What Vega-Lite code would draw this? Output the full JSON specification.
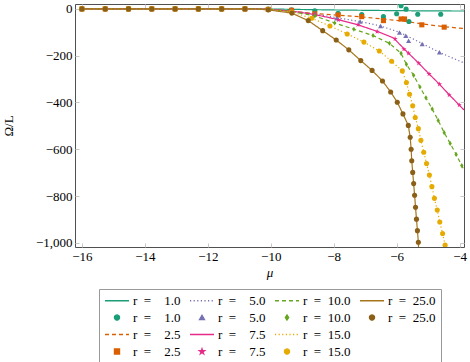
{
  "$schema": "https://vega.github.io/schema/vega-lite/v6.json",
  "width": 389,
  "height": 243,
  "autosize": "none",
  "padding": {"left": 75, "top": 4, "right": 6, "bottom": 115},
  "background": "white",
  "config": {
    "view": {"stroke": "#505050", "strokeWidth": 1},
    "axis": {
      "labelFont": "Liberation Serif", "titleFont": "Liberation Serif",
      "labelFontSize": 13, "titleFontSize": 13, "labelColor": "#000", "titleColor": "#000",
      "titleFontWeight": "normal", "domain": false, "grid": false,
      "tickColor": "#c8c8c8", "tickSize": -4, "labelPadding": 7, "labelFlush": false
    },
    "legend": {
      "orient": "none", "legendX": 24, "legendY": 285,
      "columns": 4, "direction": "horizontal",
      "strokeColor": "#999999", "padding": 5,
      "symbolStrokeWidth": 1.3, "clipHeight": 13,
      "labelFont": "Liberation Serif", "labelFontSize": 13, "labelColor": "#000", "labelOffset": 3,
      "columnPadding": 8, "rowPadding": 3
    }
  },
  "datasets": {
    "lines": [
      {"k":"L1.0","x":-16,"y":0},{"k":"L1.0","x":-10.5,"y":0},{"k":"L1.0","x":-10,"y":-0.5},{"k":"L1.0","x":-9.5,"y":-1.5},{"k":"L1.0","x":-9,"y":-2.5},{"k":"L1.0","x":-8,"y":-4.5},{"k":"L1.0","x":-7,"y":-6},{"k":"L1.0","x":-6,"y":-7.5},{"k":"L1.0","x":-5,"y":-8.5},{"k":"L1.0","x":-3.86,"y":-9},
      {"k":"L2.5","x":-16,"y":0},{"k":"L2.5","x":-10.5,"y":0},{"k":"L2.5","x":-10,"y":-2},{"k":"L2.5","x":-9.3,"y":-10},{"k":"L2.5","x":-8.6,"y":-20},{"k":"L2.5","x":-7.86,"y":-27},{"k":"L2.5","x":-7.1,"y":-34},{"k":"L2.5","x":-6.4,"y":-44},{"k":"L2.5","x":-5.8,"y":-52},{"k":"L2.5","x":-5.2,"y":-64},{"k":"L2.5","x":-4.5,"y":-76},{"k":"L2.5","x":-3.86,"y":-84},
      {"k":"L5.0","x":-16,"y":0},{"k":"L5.0","x":-10.5,"y":0},{"k":"L5.0","x":-10,"y":-2},{"k":"L5.0","x":-9.3,"y":-10},{"k":"L5.0","x":-8.6,"y":-22},{"k":"L5.0","x":-7.9,"y":-38},{"k":"L5.0","x":-7.16,"y":-54},{"k":"L5.0","x":-6.51,"y":-73},{"k":"L5.0","x":-5.91,"y":-100},{"k":"L5.0","x":-5.5,"y":-127},{"k":"L5.0","x":-5.19,"y":-148},{"k":"L5.0","x":-4.64,"y":-186},{"k":"L5.0","x":-3.86,"y":-231},
      {"k":"L7.5","x":-16,"y":0},{"k":"L7.5","x":-10.5,"y":0},{"k":"L7.5","x":-10,"y":-2},{"k":"L7.5","x":-9.3,"y":-10},{"k":"L7.5","x":-8.6,"y":-24},{"k":"L7.5","x":-7.85,"y":-46},{"k":"L7.5","x":-7.23,"y":-68},{"k":"L7.5","x":-6.62,"y":-96},{"k":"L7.5","x":-6.1,"y":-124},{"k":"L7.5","x":-5.77,"y":-170},{"k":"L7.5","x":-5.3,"y":-232},{"k":"L7.5","x":-4.97,"y":-278},{"k":"L7.5","x":-4.64,"y":-322},{"k":"L7.5","x":-4.33,"y":-367},{"k":"L7.5","x":-4.01,"y":-411},{"k":"L7.5","x":-3.86,"y":-432},
      {"k":"L10.0","x":-16,"y":0},{"k":"L10.0","x":-10.5,"y":0},{"k":"L10.0","x":-10,"y":-3},{"k":"L10.0","x":-9.34,"y":-11},{"k":"L10.0","x":-8.6,"y":-30},{"k":"L10.0","x":-7.97,"y":-60},{"k":"L10.0","x":-7.36,"y":-87},{"k":"L10.0","x":-6.75,"y":-114},{"k":"L10.0","x":-6.23,"y":-147},{"k":"L10.0","x":-5.86,"y":-190},{"k":"L10.0","x":-5.69,"y":-237},{"k":"L10.0","x":-5.46,"y":-284},{"k":"L10.0","x":-5.26,"y":-334},{"k":"L10.0","x":-5.07,"y":-380},{"k":"L10.0","x":-4.87,"y":-428},{"k":"L10.0","x":-4.68,"y":-477},{"k":"L10.0","x":-4.49,"y":-529},{"k":"L10.0","x":-4.3,"y":-575},{"k":"L10.0","x":-4.11,"y":-622},{"k":"L10.0","x":-3.93,"y":-670},{"k":"L10.0","x":-3.86,"y":-688},
      {"k":"L15.0","x":-16,"y":0},{"k":"L15.0","x":-10.5,"y":0},{"k":"L15.0","x":-10,"y":-3},{"k":"L15.0","x":-9.34,"y":-13},{"k":"L15.0","x":-8.7,"y":-40},{"k":"L15.0","x":-8.12,"y":-73},{"k":"L15.0","x":-7.57,"y":-107},{"k":"L15.0","x":-7.04,"y":-142},{"k":"L15.0","x":-6.55,"y":-180},{"k":"L15.0","x":-6.16,"y":-224},{"k":"L15.0","x":-5.82,"y":-265},{"k":"L15.0","x":-5.69,"y":-315},{"k":"L15.0","x":-5.59,"y":-365},{"k":"L15.0","x":-5.49,"y":-414},{"k":"L15.0","x":-5.41,"y":-464},{"k":"L15.0","x":-5.31,"y":-512},{"k":"L15.0","x":-5.23,"y":-562},{"k":"L15.0","x":-5.14,"y":-613},{"k":"L15.0","x":-5.05,"y":-661},{"k":"L15.0","x":-4.96,"y":-710},{"k":"L15.0","x":-4.88,"y":-760},{"k":"L15.0","x":-4.8,"y":-810},{"k":"L15.0","x":-4.71,"y":-860},{"k":"L15.0","x":-4.63,"y":-911},{"k":"L15.0","x":-4.54,"y":-960},{"k":"L15.0","x":-4.46,"y":-1010},{"k":"L15.0","x":-4.42,"y":-1035},
      {"k":"L25.0","x":-16,"y":0},{"k":"L25.0","x":-10.5,"y":0},{"k":"L25.0","x":-10.08,"y":-4},{"k":"L25.0","x":-9.33,"y":-18},{"k":"L25.0","x":-8.81,"y":-50},{"k":"L25.0","x":-8.35,"y":-93},{"k":"L25.0","x":-7.92,"y":-133},{"k":"L25.0","x":-7.52,"y":-175},{"k":"L25.0","x":-7.14,"y":-221},{"k":"L25.0","x":-6.78,"y":-263},{"k":"L25.0","x":-6.45,"y":-308},{"k":"L25.0","x":-6.19,"y":-355},{"k":"L25.0","x":-5.98,"y":-399},{"k":"L25.0","x":-5.8,"y":-449},{"k":"L25.0","x":-5.63,"y":-498},{"k":"L25.0","x":-5.57,"y":-549},{"k":"L25.0","x":-5.54,"y":-600},{"k":"L25.0","x":-5.52,"y":-649},{"k":"L25.0","x":-5.49,"y":-699},{"k":"L25.0","x":-5.46,"y":-747},{"k":"L25.0","x":-5.43,"y":-797},{"k":"L25.0","x":-5.4,"y":-848},{"k":"L25.0","x":-5.37,"y":-899},{"k":"L25.0","x":-5.34,"y":-948},{"k":"L25.0","x":-5.31,"y":-998},{"k":"L25.0","x":-5.3,"y":-1035}
    ],
    "marks": [
      {"k":"M1.0","x":-16,"y":0},{"k":"M1.0","x":-15.26,"y":0},{"k":"M1.0","x":-14.52,"y":0},{"k":"M1.0","x":-13.78,"y":0},{"k":"M1.0","x":-13.04,"y":0},{"k":"M1.0","x":-12.3,"y":0},{"k":"M1.0","x":-11.56,"y":0},{"k":"M1.0","x":-10.82,"y":0},{"k":"M1.0","x":-10.08,"y":-1},{"k":"M1.0","x":-9.34,"y":-4},{"k":"M1.0","x":-8.6,"y":-8},{"k":"M1.0","x":-7.86,"y":-19},{"k":"M1.0","x":-7.11,"y":-24},{"k":"M1.0","x":-6.42,"y":-33},{"k":"M1.0","x":-6.0,"y":-21},{"k":"M1.0","x":-5.86,"y":14},{"k":"M1.0","x":-5.7,"y":-1},{"k":"M1.0","x":-5.61,"y":-54},{"k":"M1.0","x":-5.33,"y":-23},{"k":"M1.0","x":-4.6,"y":-23},
      {"k":"M2.5","x":-16,"y":0},{"k":"M2.5","x":-15.26,"y":0},{"k":"M2.5","x":-14.52,"y":0},{"k":"M2.5","x":-13.78,"y":0},{"k":"M2.5","x":-13.04,"y":0},{"k":"M2.5","x":-12.3,"y":0},{"k":"M2.5","x":-11.56,"y":0},{"k":"M2.5","x":-10.82,"y":0},{"k":"M2.5","x":-10.08,"y":-2},{"k":"M2.5","x":-9.34,"y":-6},{"k":"M2.5","x":-8.6,"y":-21},{"k":"M2.5","x":-7.86,"y":-26},{"k":"M2.5","x":-7.11,"y":-33},{"k":"M2.5","x":-6.42,"y":-50},{"k":"M2.5","x":-5.86,"y":-43},{"k":"M2.5","x":-5.75,"y":-43},{"k":"M2.5","x":-5.2,"y":-68},{"k":"M2.5","x":-4.49,"y":-78},
      {"k":"M5.0","x":-16,"y":0},{"k":"M5.0","x":-15.26,"y":0},{"k":"M5.0","x":-14.52,"y":0},{"k":"M5.0","x":-13.78,"y":0},{"k":"M5.0","x":-13.04,"y":0},{"k":"M5.0","x":-12.3,"y":0},{"k":"M5.0","x":-11.56,"y":0},{"k":"M5.0","x":-10.82,"y":0},{"k":"M5.0","x":-10.08,"y":-2},{"k":"M5.0","x":-9.34,"y":-8},{"k":"M5.0","x":-8.6,"y":-20},{"k":"M5.0","x":-7.9,"y":-40},{"k":"M5.0","x":-7.16,"y":-54},{"k":"M5.0","x":-6.51,"y":-73},{"k":"M5.0","x":-5.91,"y":-101},{"k":"M5.0","x":-5.71,"y":-115},{"k":"M5.0","x":-5.62,"y":-136},{"k":"M5.0","x":-5.19,"y":-150},{"k":"M5.0","x":-4.64,"y":-185},
      {"k":"M7.5","x":-16,"y":0},{"k":"M7.5","x":-15.26,"y":0},{"k":"M7.5","x":-14.52,"y":0},{"k":"M7.5","x":-13.78,"y":0},{"k":"M7.5","x":-13.04,"y":0},{"k":"M7.5","x":-12.3,"y":0},{"k":"M7.5","x":-11.56,"y":0},{"k":"M7.5","x":-10.82,"y":0},{"k":"M7.5","x":-10.08,"y":-2},{"k":"M7.5","x":-9.34,"y":-9},{"k":"M7.5","x":-8.6,"y":-24},{"k":"M7.5","x":-7.85,"y":-47},{"k":"M7.5","x":-7.23,"y":-68},{"k":"M7.5","x":-6.62,"y":-97},{"k":"M7.5","x":-6.05,"y":-128},{"k":"M7.5","x":-5.77,"y":-172},{"k":"M7.5","x":-5.62,"y":-190},{"k":"M7.5","x":-5.3,"y":-232},{"k":"M7.5","x":-4.97,"y":-278},{"k":"M7.5","x":-4.64,"y":-322},{"k":"M7.5","x":-4.33,"y":-368},{"k":"M7.5","x":-4.01,"y":-411},
      {"k":"M10.0","x":-16,"y":0},{"k":"M10.0","x":-15.26,"y":0},{"k":"M10.0","x":-14.52,"y":0},{"k":"M10.0","x":-13.78,"y":0},{"k":"M10.0","x":-13.04,"y":0},{"k":"M10.0","x":-12.3,"y":0},{"k":"M10.0","x":-11.56,"y":0},{"k":"M10.0","x":-10.82,"y":0},{"k":"M10.0","x":-10.08,"y":-3},{"k":"M10.0","x":-9.34,"y":-11},{"k":"M10.0","x":-8.6,"y":-30},{"k":"M10.0","x":-7.97,"y":-60},{"k":"M10.0","x":-7.36,"y":-87},{"k":"M10.0","x":-6.75,"y":-114},{"k":"M10.0","x":-6.23,"y":-147},{"k":"M10.0","x":-5.86,"y":-190},{"k":"M10.0","x":-5.69,"y":-237},{"k":"M10.0","x":-5.46,"y":-284},{"k":"M10.0","x":-5.26,"y":-334},{"k":"M10.0","x":-5.07,"y":-380},{"k":"M10.0","x":-4.87,"y":-428},{"k":"M10.0","x":-4.68,"y":-477},{"k":"M10.0","x":-4.49,"y":-529},{"k":"M10.0","x":-4.3,"y":-575},{"k":"M10.0","x":-4.11,"y":-622},{"k":"M10.0","x":-3.93,"y":-670},
      {"k":"M15.0","x":-16,"y":0},{"k":"M15.0","x":-15.26,"y":0},{"k":"M15.0","x":-14.52,"y":0},{"k":"M15.0","x":-13.78,"y":0},{"k":"M15.0","x":-13.04,"y":0},{"k":"M15.0","x":-12.3,"y":0},{"k":"M15.0","x":-11.56,"y":0},{"k":"M15.0","x":-10.82,"y":0},{"k":"M15.0","x":-10.08,"y":-3},{"k":"M15.0","x":-9.34,"y":-13},{"k":"M15.0","x":-8.7,"y":-40},{"k":"M15.0","x":-8.12,"y":-73},{"k":"M15.0","x":-7.57,"y":-107},{"k":"M15.0","x":-7.04,"y":-142},{"k":"M15.0","x":-6.55,"y":-180},{"k":"M15.0","x":-6.16,"y":-224},{"k":"M15.0","x":-5.82,"y":-265},{"k":"M15.0","x":-5.69,"y":-315},{"k":"M15.0","x":-5.59,"y":-365},{"k":"M15.0","x":-5.49,"y":-414},{"k":"M15.0","x":-5.41,"y":-464},{"k":"M15.0","x":-5.31,"y":-512},{"k":"M15.0","x":-5.23,"y":-562},{"k":"M15.0","x":-5.14,"y":-613},{"k":"M15.0","x":-5.05,"y":-661},{"k":"M15.0","x":-4.96,"y":-710},{"k":"M15.0","x":-4.88,"y":-760},{"k":"M15.0","x":-4.8,"y":-810},{"k":"M15.0","x":-4.71,"y":-860},{"k":"M15.0","x":-4.63,"y":-911},{"k":"M15.0","x":-4.54,"y":-960},{"k":"M15.0","x":-4.46,"y":-1010},
      {"k":"M25.0","x":-16,"y":0},{"k":"M25.0","x":-15.26,"y":0},{"k":"M25.0","x":-14.52,"y":0},{"k":"M25.0","x":-13.78,"y":0},{"k":"M25.0","x":-13.04,"y":0},{"k":"M25.0","x":-12.3,"y":0},{"k":"M25.0","x":-11.56,"y":0},{"k":"M25.0","x":-10.82,"y":0},{"k":"M25.0","x":-10.08,"y":-4},{"k":"M25.0","x":-9.33,"y":-18},{"k":"M25.0","x":-8.81,"y":-50},{"k":"M25.0","x":-8.35,"y":-93},{"k":"M25.0","x":-7.92,"y":-133},{"k":"M25.0","x":-7.52,"y":-175},{"k":"M25.0","x":-7.14,"y":-221},{"k":"M25.0","x":-6.78,"y":-263},{"k":"M25.0","x":-6.45,"y":-308},{"k":"M25.0","x":-6.19,"y":-355},{"k":"M25.0","x":-5.98,"y":-399},{"k":"M25.0","x":-5.8,"y":-449},{"k":"M25.0","x":-5.63,"y":-498},{"k":"M25.0","x":-5.57,"y":-549},{"k":"M25.0","x":-5.54,"y":-600},{"k":"M25.0","x":-5.52,"y":-649},{"k":"M25.0","x":-5.49,"y":-699},{"k":"M25.0","x":-5.46,"y":-747},{"k":"M25.0","x":-5.43,"y":-797},{"k":"M25.0","x":-5.4,"y":-848},{"k":"M25.0","x":-5.37,"y":-899},{"k":"M25.0","x":-5.34,"y":-948},{"k":"M25.0","x":-5.31,"y":-998}
    ]
  },
  "resolve": {"axis": {"x": "independent", "y": "independent"}},
  "layer": [
    {
      "data": {"name": "lines"},
      "mark": {"type": "line", "strokeWidth": 1.2, "clip": true},
      "encoding": {
        "x": {"field": "x", "type": "quantitative", "scale": {"domain": [-16.22, -3.86], "nice": false, "zero": false},
              "axis": {"orient": "bottom", "values": [-16,-14,-12,-10,-8,-6,-4], "title": "μ", "titleFontStyle": "italic", "titlePadding": 3}},
        "y": {"field": "y", "type": "quantitative", "scale": {"domain": [-1018, 21], "nice": false, "zero": false},
              "axis": {"orient": "left", "values": [-1000,-800,-600,-400,-200,0], "title": "Ω/L", "titlePadding": 20}},
        "color": {
          "field": "k", "type": "nominal",
          "scale": {
            "domain": ["L1.0","L5.0","L10.0","L25.0","M1.0","M5.0","M10.0","M25.0","L2.5","L7.5","L15.0","B1","M2.5","M7.5","M15.0","B2"],
            "range": ["#1b9e77","#7570b3","#66a61e","#a6761d","#1b9e77","#7570b3","#66a61e","#8c5f17","#d95f02","#e7298a","#e6ab02","transparent","#d95f02","#e7298a","#e6ab02","transparent"]
          },
          "legend": {
            "title": null,
            "labelExpr": "indexof(datum.value,'B')==0 ? '' : 'r\u2002=\u2002' + (length(substring(datum.value,1))==3 ? '\u2007' : '') + substring(datum.value,1)"
          }
        },
        "strokeDash": {
          "field": "k", "type": "nominal",
          "scale": {
            "domain": ["L1.0","L5.0","L10.0","L25.0","M1.0","M5.0","M10.0","M25.0","L2.5","L7.5","L15.0","B1","M2.5","M7.5","M15.0","B2"],
            "range": [[1,0],[1.2,2.4],[4,3],[1,0],[1,0],[1,0],[1,0],[1,0],[4,3],[1,0],[1.2,2.4],[1,0],[1,0],[1,0],[1,0],[1,0]]
          },
          "legend": null
        }
      }
    },
    {
      "data": {"name": "marks"},
      "mark": {"type": "point", "filled": true, "opacity": 1, "clip": true},
      "encoding": {
        "x": {"field": "x", "type": "quantitative",
              "axis": {"orient": "top", "values": [-16,-14,-12,-10,-8,-6,-4], "labels": false, "title": null}},
        "y": {"field": "y", "type": "quantitative",
              "axis": {"orient": "right", "values": [-1000,-800,-600,-400,-200,0], "labels": false, "title": null}},
        "color": {"field": "k", "type": "nominal", "legend": null},
        "size": {
          "field": "k", "type": "nominal",
          "scale": {
            "type": "ordinal",
            "domain": ["L1.0","L5.0","L10.0","L25.0","M1.0","M5.0","M10.0","M25.0","L2.5","L7.5","L15.0","B1","M2.5","M7.5","M15.0","B2"],
            "range": [576,576,576,576,26,26,26,26,576,576,576,0,26,30,26,0]
          },
          "legend": {
            "title": null,
            "labelExpr": "indexof(datum.value,'B')==0 ? '' : 'r\u2002=\u2002' + (length(substring(datum.value,1))==3 ? '\u2007' : '') + substring(datum.value,1)"
          }
        },
        "shape": {
          "field": "k", "type": "nominal",
          "scale": {
            "domain": ["L1.0","L5.0","L10.0","L25.0","M1.0","M5.0","M10.0","M25.0","L2.5","L7.5","L15.0","B1","M2.5","M7.5","M15.0","B2"],
            "range": ["stroke","stroke","stroke","stroke","circle","triangle-up","M0,-1L0.65,0L0,1L-0.65,0Z","circle","stroke","stroke","stroke","circle","square","M0,-1L0.2245,-0.309L0.951,-0.309L0.363,0.118L0.588,0.809L0,0.382L-0.588,0.809L-0.363,0.118L-0.951,-0.309L-0.2245,-0.309Z","circle","circle"]
          },
          "legend": null
        }
      }
    }
  ]
}
